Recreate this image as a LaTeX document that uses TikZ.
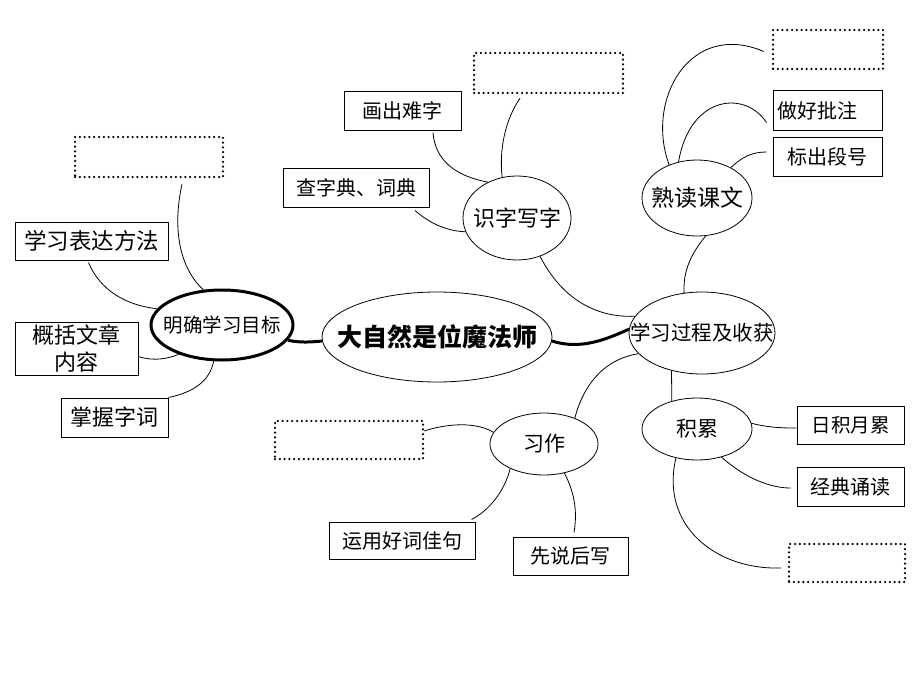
\documentclass[tikz,border=0pt]{standalone}
\usepackage{fontspec}
\setmainfont{Noto Sans CJK SC}
\usetikzlibrary{shapes.geometric}
\newcommand{\fsz}[1]{\fontsize{#1pt}{#1pt}\selectfont}
\tikzset{
  oval/.style={draw, ellipse, inner sep=0pt, line width=0.8pt},
  box/.style={draw, rectangle, inner sep=0pt, line width=1pt},
  dotbox/.style={draw, rectangle, inner sep=0pt, line width=2.5pt, dash pattern=on 0pt off 4.8pt, line cap=round},
  link/.style={line width=0.8pt},
  boldlink/.style={line width=3pt},
}
\begin{document}
\begin{tikzpicture}[x=1pt,y=-1pt]
\useasboundingbox (0,0) rectangle (920,690);
% ellipses
\node[oval, minimum width=230pt, minimum height=90pt] (C) at (437,337) {\makebox[0pt]{\fsz{25}\bfseries 大自然是位魔法师}};
\node[oval, line width=3pt, minimum width=142pt, minimum height=70pt] (M) at (222,325) {\makebox[0pt]{\fsz{19.5}明确学习目标}};
\node[oval, minimum width=146pt, minimum height=82pt] (P) at (702,333) {\makebox[0pt]{\fsz{20.5}学习过程及收获}};
\node[oval, minimum width=110pt, minimum height=76pt] (S) at (697,198) {\makebox[0pt]{\fsz{23}熟读课文}};
\node[oval, minimum width=108pt, minimum height=84pt] (Z) at (517,218) {\makebox[0pt]{\fsz{22}识字写字}};
\node[oval, minimum width=108pt, minimum height=62pt] (X) at (544,444) {\makebox[0pt]{\fsz{21}习作}};
\node[oval, minimum width=110pt, minimum height=62pt] (J) at (697,429) {\makebox[0pt]{\fsz{21}积累}};
% boxes
\node[box, minimum width=153pt, minimum height=38pt] (b1) at (91.5,241) {\fsz{22.5}学习表达方法};
\node[box, minimum width=123pt, minimum height=53pt, align=center] (b2) at (76.5,348.5) {\fsz{22}概括文章\\[5pt]\fsz{22}内容};
\node[box, minimum width=107pt, minimum height=39pt] (b3) at (114.5,417.5) {\fsz{22}掌握字词};
\node[dotbox, minimum width=148pt, minimum height=40pt] (d1) at (149,157) {};
\node[box, minimum width=117pt, minimum height=38pt] (b4) at (402.5,111) {\fsz{20}画出难字};
\node[box, minimum width=146pt, minimum height=39pt] (b5) at (356,187.5) {\fsz{20}查字典、词典};
\node[dotbox, minimum width=149pt, minimum height=40pt] (d2) at (548.5,73) {};
\node[dotbox, minimum width=110pt, minimum height=39pt] (d3) at (828,49.5) {};
\node[box, minimum width=109pt, minimum height=39pt, inner xsep=4pt, text width=101pt, align=left] (b6) at (827.5,110.5) {\fsz{20}做好批注};
\node[box, minimum width=109pt, minimum height=39pt] (b7) at (827.5,156.5) {\fsz{20}标出段号};
\node[box, minimum width=107pt, minimum height=38pt] (b8) at (850.5,425) {\fsz{19.5}日积月累};
\node[box, minimum width=107pt, minimum height=39pt] (b9) at (850.5,486.5) {\fsz{20}经典诵读};
\node[dotbox, minimum width=116pt, minimum height=38pt] (d4) at (847,563) {};
\node[dotbox, minimum width=148pt, minimum height=38pt] (d5) at (349,440) {};
\node[box, minimum width=146pt, minimum height=37pt] (b10) at (402,540.5) {\fsz{20}运用好词佳句};
\node[box, minimum width=115pt, minimum height=38pt] (b11) at (570.5,556) {\fsz{20}先说后写};
% thick connectors
\draw[boldlink] (M.347) .. controls (300,343) and (312,342) .. (C.182);
\draw[boldlink] (C.358) .. controls (580,350) and (605,340) .. (P.177);
% left group
\draw[link] ([xshift=33pt,yshift=-6pt]d1.south) .. controls (172,230) and (180,268) .. (M.118);
\draw[link] ([xshift=-3pt,yshift=-2pt]b1.south) .. controls (100,290) and (125,305) .. (M.166);
\draw[link] ([yshift=-8pt]b2.east) .. controls (155,362) and (170,358) .. (M.214);
\draw[link] (b3.north east) .. controls (195,392) and (210,380) .. (M.257);
% shizi group
\draw[link] ([xshift=30.5pt,yshift=-2pt]b4.south) .. controls (435,160) and (455,176) .. (Z.129);
\draw[link] ([xshift=59pt,yshift=-3pt]b5.south) .. controls (428,222) and (445,231) .. (Z.195);
\draw[link] ([xshift=-28.5pt,yshift=-4pt]d2.south) .. controls (505,120) and (499,150) .. (Z.110);
\draw[link] (Z.301) .. controls (560,295) and (592,318) .. (P.166);
% shudu group
\draw[link] (S.283) .. controls (690,255) and (683,272) .. (P.114);
\draw[link] ([xshift=-8pt,yshift=-2pt]d3.west) .. controls (690,20) and (645,100) .. (S.130);
\draw[link] ([xshift=-6pt,yshift=-12pt]b6.west) .. controls (745,90) and (690,95) .. (S.117);
\draw[link] ([xshift=-6pt,yshift=4.5pt]b7.west) .. controls (752,152) and (742,157) .. (S.42);
% jilei group
\draw[link] (P.231) -- (J.132);
\draw[link] (J.6) .. controls (770,428) and (785,428) .. ([yshift=-3pt]b8.west);
\draw[link] (J.311) .. controls (745,478) and (770,488) .. ([xshift=-6pt,yshift=-1.5pt]b9.west);
\draw[link] (J.234) .. controls (660,525) and (715,570) .. ([xshift=-7pt,yshift=-5pt]d4.west);
% xizuo group
\draw[link] (P.198) .. controls (600,360) and (582,390) .. (X.40);
\draw[link] ([yshift=9pt]d5.east) .. controls (445,424) and (475,421) .. (X.167);
\draw[link] (X.216) .. controls (505,490) and (490,510) .. ([xshift=-4pt,yshift=2pt]b10.north east);
\draw[link] (X.305) .. controls (576,495) and (577,515) .. ([xshift=3.5pt,yshift=4pt]b11.north);
\end{tikzpicture}
\end{document}
